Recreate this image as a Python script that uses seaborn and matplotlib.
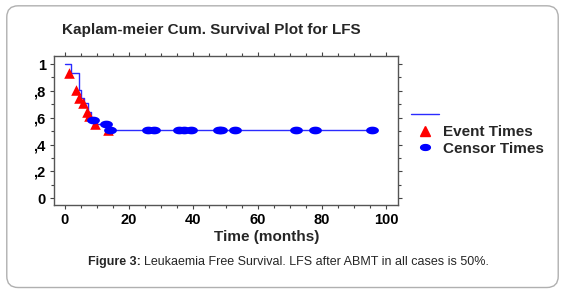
import numpy as np
import pandas as pd
import matplotlib
matplotlib.use("Agg")
import matplotlib.pyplot as plt
from matplotlib.path import Path
from matplotlib.lines import Line2D
from matplotlib.patches import FancyBboxPatch
import seaborn as sns

# ---- data ----
step_t = [0, 2.0, 4.3, 5.0, 6.0, 7.2, 8.0, 10.0, 13.6, 96.0]
step_s = [1.0, 0.935, 0.81, 0.745, 0.71, 0.645, 0.59, 0.55, 0.505, 0.505]

event_t = [1.3, 3.6, 4.5, 5.5, 6.8, 7.6, 9.4, 13.3]
event_s = [0.935, 0.81, 0.745, 0.71, 0.645, 0.615, 0.55, 0.505]

censor_t = [8.6, 12.8, 14.0, 26.0, 27.7, 35.5, 37.0, 39.3, 48.0, 48.6, 52.8, 72.0, 77.9, 95.7]
censor_s = [0.58, 0.55, 0.505, 0.505, 0.505, 0.505, 0.505, 0.505, 0.505, 0.505, 0.505, 0.505, 0.505, 0.505]

x_ticks = [0, 20, 40, 60, 80, 100]
y_ticks = [0, 0.2, 0.4, 0.6, 0.8, 1.0]
y_ticklabels = ["0", ",2", ",4", ",6", ",8", "1"]

sns.set_style("ticks")
plt.rcParams["font.family"] = ["Liberation Sans", "DejaVu Sans"]

fig = plt.figure(figsize=(5.65, 2.91), dpi=100)

# rounded frame
frame = FancyBboxPatch((0.012, 0.012), 0.976, 0.968, boxstyle="round,pad=0,rounding_size=0.02",
                       transform=fig.transFigure, facecolor="white", edgecolor="#b0b0b0",
                       linewidth=1.0, zorder=-10, mutation_aspect=565/291)
fig.patches.append(frame)

ax = fig.add_axes([0.0956, 0.2955, 0.6088, 0.5121])
ax.set_facecolor("none")

steps = pd.DataFrame({"t": step_t, "s": step_s})
ev = pd.DataFrame({"t": event_t, "s": event_s})
ce = pd.DataFrame({"t": censor_t, "s": censor_s})

sns.lineplot(data=steps, x="t", y="s", ax=ax, drawstyle="steps-post",
             color="#2b2bff", linewidth=1.0, zorder=2)

ell = np.linspace(0, 2 * np.pi, 40)
ellipse = Path(np.column_stack([np.cos(ell), 0.6 * np.sin(ell)]), closed=True)

sns.scatterplot(data=ev, x="t", y="s", ax=ax, marker="^", color="#ff0000",
                s=58, linewidth=0, zorder=3)
sns.scatterplot(data=ce, x="t", y="s", ax=ax, marker=ellipse, color="#0000ff",
                s=85, linewidth=0, zorder=4)

ax.set_xlim(-3.4, 103.7)
ax.set_ylim(-0.05, 1.06)
ax.set_xticks(x_ticks)
ax.set_xticklabels([str(v) for v in x_ticks], fontweight="bold", fontsize=10.5)
ax.set_yticks(y_ticks)
ax.set_yticklabels(y_ticklabels, fontweight="bold", fontsize=10.5)
ax.set_xticks(np.arange(0, 101, 5), minor=True)
ax.set_yticks(np.arange(0, 1.01, 0.1), minor=True)
ax.tick_params(which="both", top=True, right=True, direction="out", color="#444444",
               length=3, width=0.8, pad=3, labelcolor="black")
ax.tick_params(which="minor", length=2)
for sp in ax.spines.values():
    sp.set_visible(True)
    sp.set_color("#555555")
    sp.set_linewidth(1.0)

ax.set_xlabel("Time (months)", fontweight="bold", fontsize=11, labelpad=0)
ax.xaxis.set_label_coords((267 - 54) / 344, -0.17)
ax.set_ylabel("")

fig.text(62 / 565, 1 - 30 / 291, "Kaplam-meier Cum. Survival Plot for LFS",
         fontsize=11, fontweight="bold", va="center", ha="left")

handles = [
    Line2D([], [], color="#2b2bff", linewidth=1.0),
    Line2D([], [], color="#ff0000", marker="^", linestyle="none", markersize=7),
    Line2D([], [], color="#0000ff", marker=ellipse, linestyle="none", markersize=7),
]
leg = fig.legend(handles, ["", "Event Times", "Censor Times"], loc="upper left",
                 bbox_to_anchor=(0.728, 0.627), frameon=False,
                 prop={"weight": "bold", "size": 11}, handlelength=1.8,
                 handletextpad=0.25, labelspacing=0.17, borderaxespad=0,
                 borderpad=0)

# caption with bold prefix
cap_y = 1 - 262 / 291
a = fig.text(0.5, cap_y, "Figure 3: ", fontsize=9, fontweight="bold", ha="left", va="center")
b = fig.text(0.5, cap_y, "Leukaemia Free Survival. LFS after ABMT in all cases is 50%.",
             fontsize=9, ha="left", va="center")
fig.canvas.draw()
r = fig.canvas.get_renderer()
wa = a.get_window_extent(r).width
start = 88
a.set_x(start / 565)
b.set_x((start + wa) / 565)

fig.savefig("out.png", dpi=100)
